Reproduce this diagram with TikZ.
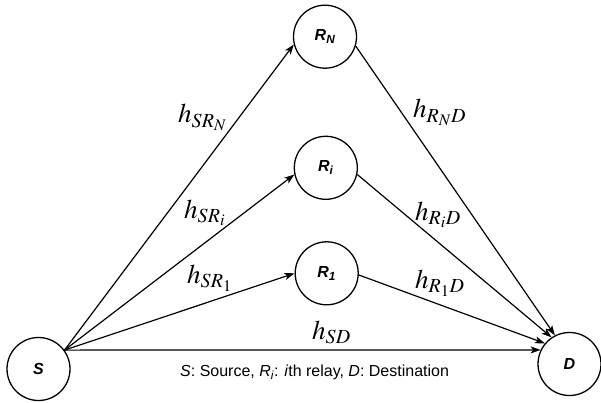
\documentclass[tikz,border=0pt]{standalone}
\usepackage{mathptmx}
\usepackage{fontspec}
\setsansfont{Liberation Sans}
\usetikzlibrary{arrows.meta}
\begin{document}
\begin{tikzpicture}[x=1pt,y=-1pt,
  nd/.style={circle,draw,line width=1.3pt,minimum size=63pt,inner sep=0pt,font=\sffamily\bfseries\itshape\fontsize{16}{16}\selectfont},
  ln/.style={line width=1.2pt,-{Stealth[length=10pt,width=7pt,inset=2.5pt]}},
  lb/.style={font=\fontsize{27}{27}\selectfont,inner sep=0pt,anchor=base west}]
\useasboundingbox (0,0) rectangle (601,403);
\node[nd] (S) at (38.5,369) {S};
\node[nd] (D) at (569.5,364) {D};
\node[nd] (RN) at (325,36.7) {R\textsubscript{N}};
\node[nd] (Ri) at (325.8,167.8) {R\textsubscript{i}};
\node[nd] (R1) at (326.7,273.3) {R\textsubscript{1}};
\draw[ln] (S.36.6) -- (RN.194);
\draw[ln] (S.36.6) -- (Ri.192);
\draw[ln] (S.36.6) -- (R1.180);
\draw[ln] (S.36.6) -- (D.154);
\draw[ln] (RN.-17) -- (D.117);
\draw[ln] (Ri.-12) -- (D.124);
\draw[ln] (R1.-3) -- (D.140);
\node[lb] (l1) at (178,123) {$h_{SR_N}$};
\node[lb] (l2) at (184,218) {$h_{SR_i}$};
\node[lb] (l3) at (187,283) {$h_{SR_1}$};
\node[lb] (l4) at (312,339) {$h_{SD}$};
\node[lb] (l5) at (413,118) {$h_{R_ND}$};
\node[lb] (l6) at (415,220) {$h_{R_iD}$};
\node[lb] (l7) at (415,288) {$h_{R_1D}$};
\node[font=\sffamily\fontsize{16}{16}\selectfont,inner sep=0pt,anchor=base west] (cap) at (180,376) {\textit{S}: Source, \textit{R\textsubscript{i}}: \textit{i}th relay, \textit{D}: Destination};
\end{tikzpicture}
\end{document}
